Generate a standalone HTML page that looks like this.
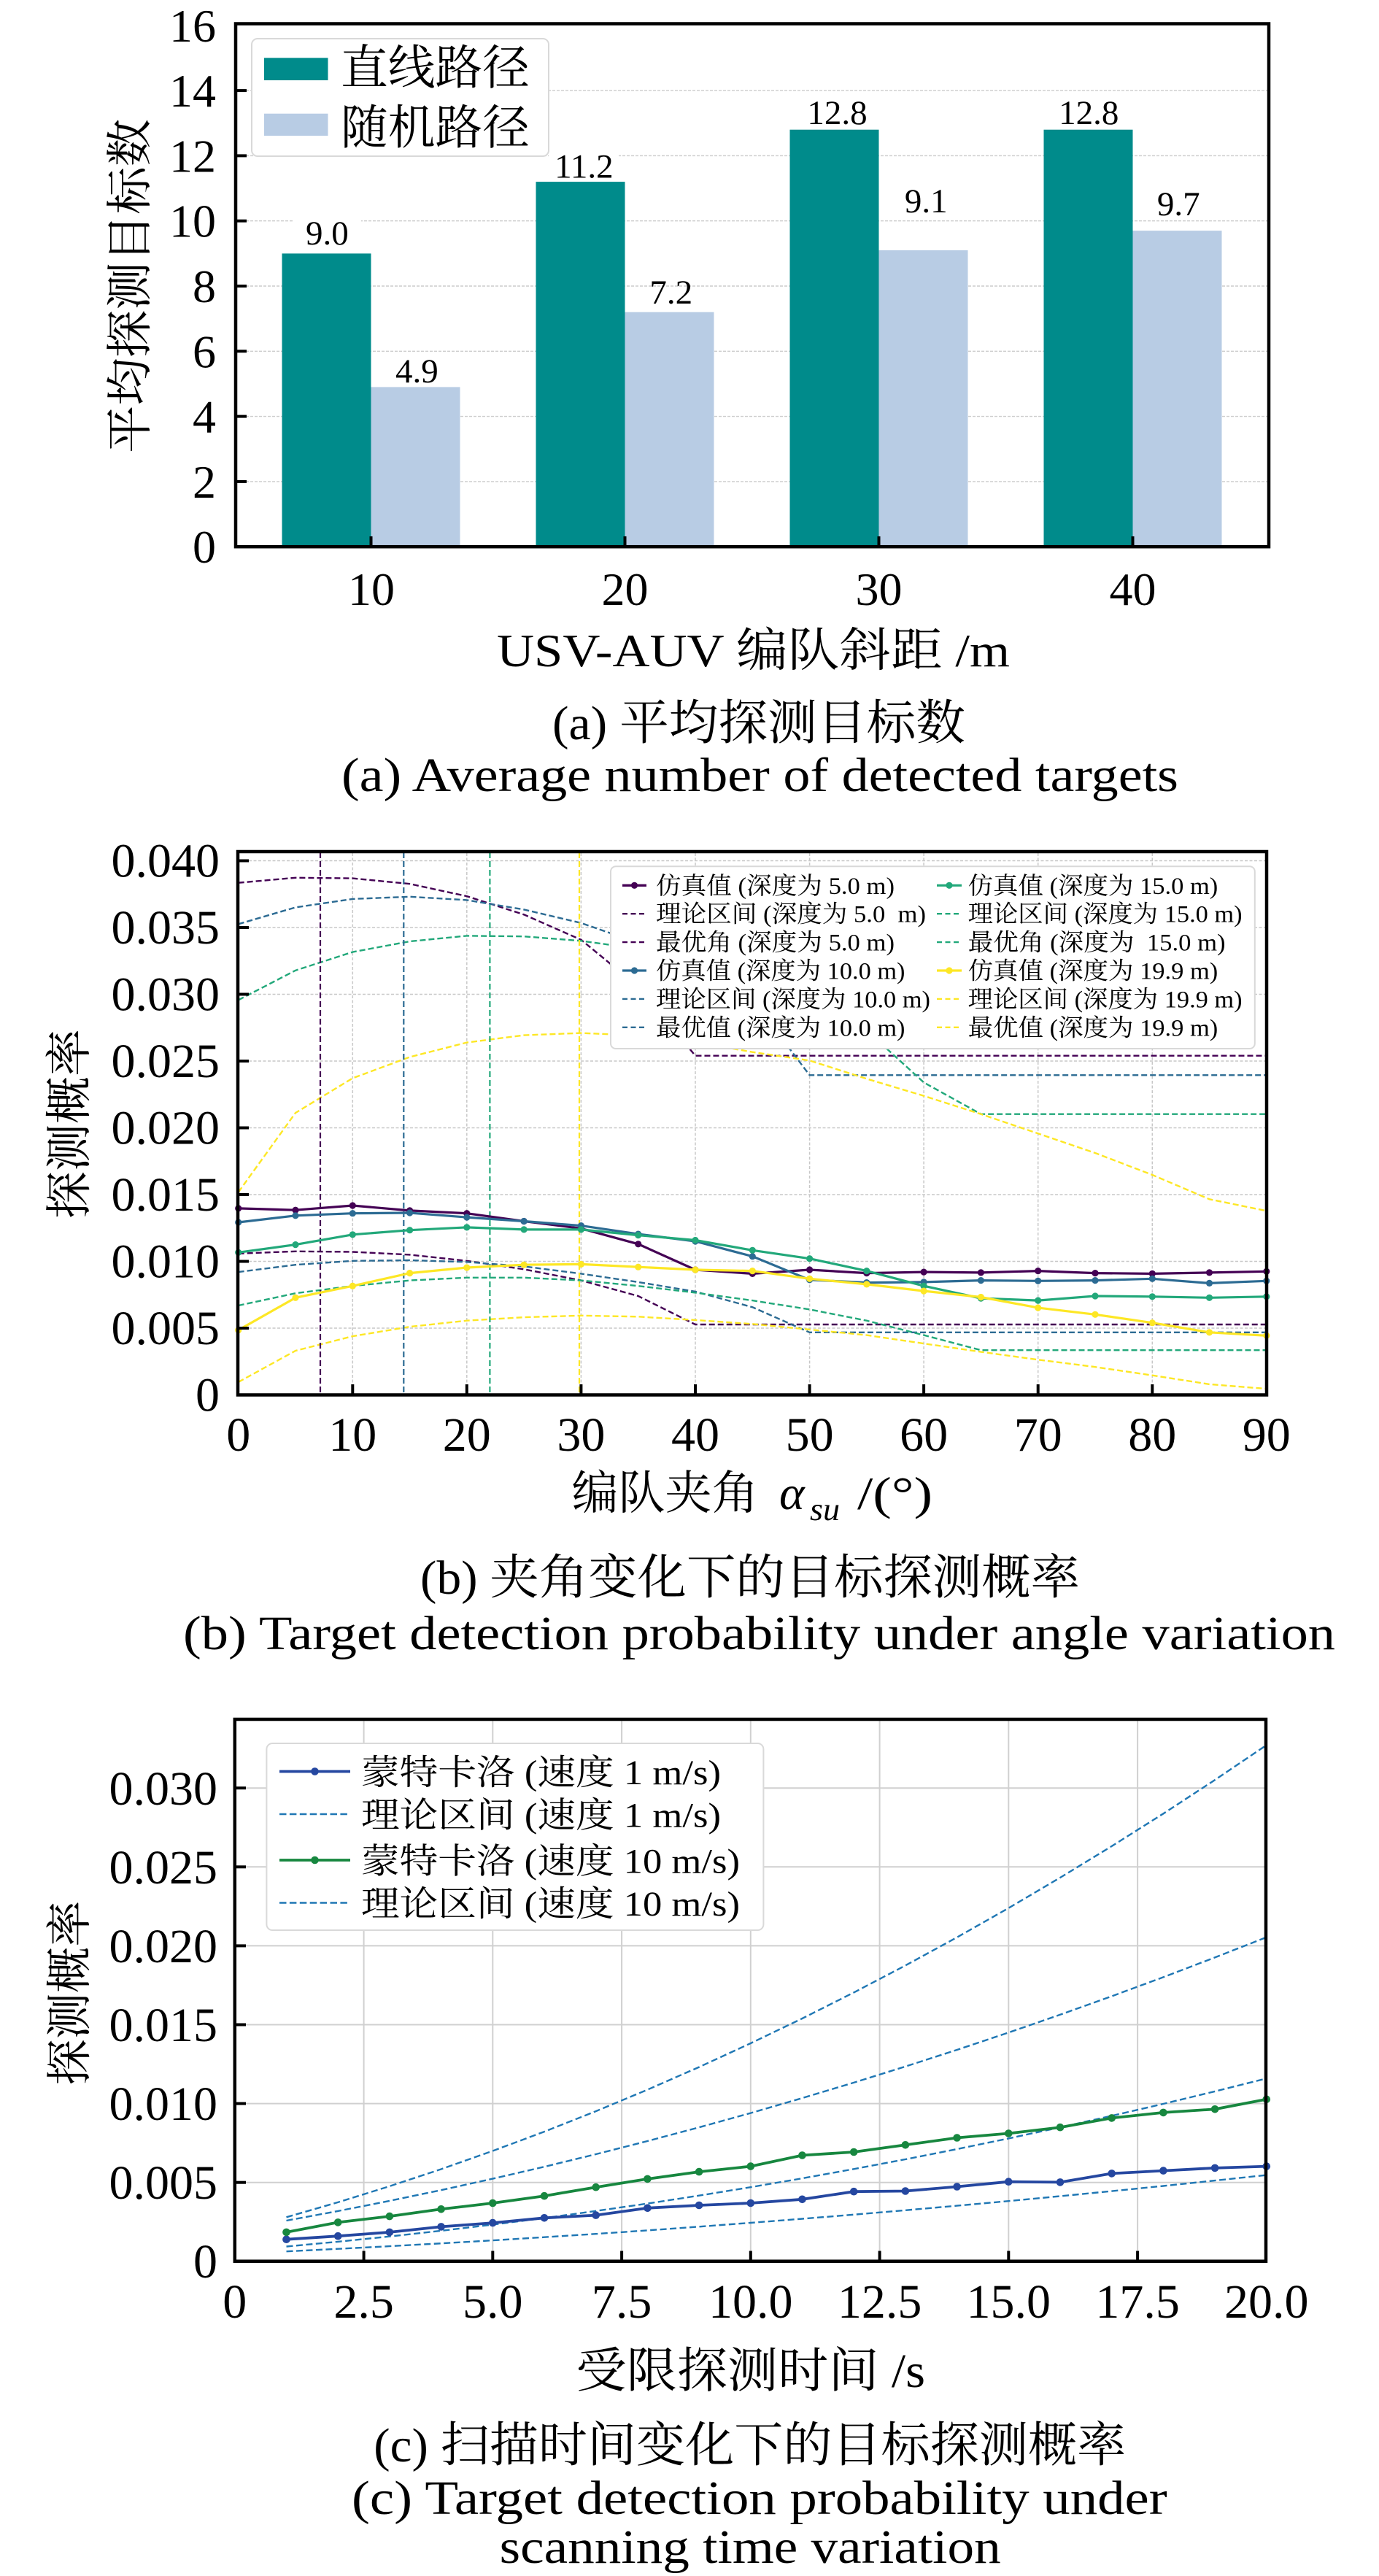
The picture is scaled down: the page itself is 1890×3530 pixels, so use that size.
<!DOCTYPE html>
<html><head><meta charset="utf-8">
<style>html,body{margin:0;padding:0;background:#fff}svg{display:block}</style>
</head><body>
<svg xmlns="http://www.w3.org/2000/svg" width="1890" height="3530" viewBox="0 0 1890 3530" font-family="'Liberation Serif','Noto Serif CJK SC',serif" fill="#000">
<defs>
<marker id="mP" markerWidth="12" markerHeight="12" refX="6" refY="6" markerUnits="userSpaceOnUse"><circle cx="6" cy="6" r="4.6" fill="#440154"/></marker>
<marker id="mB" markerWidth="12" markerHeight="12" refX="6" refY="6" markerUnits="userSpaceOnUse"><circle cx="6" cy="6" r="4.6" fill="#2c6b93"/></marker>
<marker id="mG" markerWidth="12" markerHeight="12" refX="6" refY="6" markerUnits="userSpaceOnUse"><circle cx="6" cy="6" r="4.6" fill="#22a87a"/></marker>
<marker id="mY" markerWidth="12" markerHeight="12" refX="6" refY="6" markerUnits="userSpaceOnUse"><circle cx="6" cy="6" r="4.6" fill="#fde725"/></marker>
<marker id="mcB" markerWidth="14" markerHeight="14" refX="7" refY="7" markerUnits="userSpaceOnUse"><circle cx="7" cy="7" r="5.3" fill="#2547a0"/></marker>
<marker id="mcG" markerWidth="14" markerHeight="14" refX="7" refY="7" markerUnits="userSpaceOnUse"><circle cx="7" cy="7" r="5.3" fill="#17873f"/></marker>
</defs>
<rect x="0" y="0" width="1890" height="3530" fill="#fff"/>

<!-- ================= CHART A ================= -->
<g stroke="#cccccc" stroke-width="1.4" stroke-dasharray="4,2">
<line x1="325" y1="659.9" x2="1737" y2="659.9"/>
<line x1="325" y1="570.6" x2="1737" y2="570.6"/>
<line x1="325" y1="481.3" x2="1737" y2="481.3"/>
<line x1="325" y1="392" x2="1737" y2="392"/>
<line x1="325" y1="302.7" x2="1737" y2="302.7"/>
<line x1="325" y1="213.4" x2="1737" y2="213.4"/>
<line x1="325" y1="124.1" x2="1737" y2="124.1"/>
</g>
<g fill="#008b8b">
<rect x="386.5" y="347.4" width="122" height="401.8"/>
<rect x="734.5" y="249.1" width="122" height="500.1"/>
<rect x="1082.5" y="177.7" width="122" height="571.5"/>
<rect x="1430.5" y="177.7" width="122" height="571.5"/>
</g>
<g fill="#b8cce4">
<rect x="508.5" y="530.4" width="122" height="218.8"/>
<rect x="856.5" y="427.7" width="122" height="321.5"/>
<rect x="1204.5" y="342.9" width="122" height="406.3"/>
<rect x="1552.5" y="316.1" width="122" height="433.1"/>
</g>
<g fill="#fff">
<rect x="403" y="298" width="92" height="44"/>
<rect x="752" y="205" width="96" height="44"/>
<rect x="1099" y="132" width="97" height="44"/>
<rect x="1444" y="132" width="97" height="44"/>
</g>
<g font-size="47" text-anchor="middle">
<text x="448.4" y="335">9.0</text>
<text x="571.4" y="524">4.9</text>
<text x="800.4" y="243.5">11.2</text>
<text x="919.7" y="415.8">7.2</text>
<text x="1147.5" y="170">12.8</text>
<text x="1269.3" y="291">9.1</text>
<text x="1492.3" y="170">12.8</text>
<text x="1615.2" y="295">9.7</text>
</g>
<rect x="345" y="53" width="407" height="161" rx="8" fill="#fff" stroke="#d9d9d9" stroke-width="2"/>
<rect x="362" y="79.3" width="87.5" height="30.7" fill="#008b8b"/>
<rect x="362" y="155.7" width="87.5" height="30.3" fill="#b8cce4"/>
<text x="467" y="115" font-size="65" textLength="259" lengthAdjust="spacingAndGlyphs">直线路径</text>
<text x="467" y="197" font-size="65" textLength="259" lengthAdjust="spacingAndGlyphs">随机路径</text>
<rect x="323" y="32.5" width="1416" height="716.7" fill="none" stroke="#000" stroke-width="4.5"/>
<g stroke="#000" stroke-width="4">
<line x1="323" y1="659.9" x2="338" y2="659.9"/>
<line x1="323" y1="570.6" x2="338" y2="570.6"/>
<line x1="323" y1="481.3" x2="338" y2="481.3"/>
<line x1="323" y1="392" x2="338" y2="392"/>
<line x1="323" y1="302.7" x2="338" y2="302.7"/>
<line x1="323" y1="213.4" x2="338" y2="213.4"/>
<line x1="323" y1="124.1" x2="338" y2="124.1"/>
<line x1="508.5" y1="749" x2="508.5" y2="735"/>
<line x1="856.5" y1="749" x2="856.5" y2="735"/>
<line x1="1204.5" y1="749" x2="1204.5" y2="735"/>
<line x1="1552.5" y1="749" x2="1552.5" y2="735"/>
</g>
<g font-size="64" text-anchor="end">
<text x="296" y="771.2">0</text>
<text x="296" y="681.9">2</text>
<text x="296" y="592.6">4</text>
<text x="296" y="503.3">6</text>
<text x="296" y="414">8</text>
<text x="296" y="324.7">10</text>
<text x="296" y="235.4">12</text>
<text x="296" y="146.1">14</text>
<text x="296" y="56.8">16</text>
</g>
<g font-size="64" text-anchor="middle">
<text x="509" y="829">10</text>
<text x="856.5" y="829">20</text>
<text x="1204.5" y="829">30</text>
<text x="1552.5" y="829">40</text>
</g>
<text x="681" y="913" font-size="64" textLength="703" lengthAdjust="spacingAndGlyphs">USV-AUV 编队斜距 /m</text>
<text transform="translate(200,392) rotate(-90)" font-size="64" text-anchor="middle" textLength="458" lengthAdjust="spacingAndGlyphs">平均探测目标数</text>
<text x="757" y="1013" font-size="66" textLength="566" lengthAdjust="spacingAndGlyphs">(a) 平均探测目标数</text>
<text x="468" y="1084" font-size="66" textLength="1147" lengthAdjust="spacingAndGlyphs">(a) Average number of detected targets</text>

<!-- ================= CHART B ================= -->
<g stroke="#c8c8c8" stroke-width="1.5" stroke-dasharray="4,2.5">
<line x1="328" y1="1820" x2="1734" y2="1820"/>
<line x1="328" y1="1728.5" x2="1734" y2="1728.5"/>
<line x1="328" y1="1637" x2="1734" y2="1637"/>
<line x1="328" y1="1545.5" x2="1734" y2="1545.5"/>
<line x1="328" y1="1454" x2="1734" y2="1454"/>
<line x1="328" y1="1362.5" x2="1734" y2="1362.5"/>
<line x1="328" y1="1271" x2="1734" y2="1271"/>
<line x1="328" y1="1179.5" x2="1734" y2="1179.5"/>
<line x1="483.3" y1="1169" x2="483.3" y2="1910"/>
<line x1="639.8" y1="1169" x2="639.8" y2="1910"/>
<line x1="796.4" y1="1169" x2="796.4" y2="1910"/>
<line x1="953" y1="1169" x2="953" y2="1910"/>
<line x1="1109.6" y1="1169" x2="1109.6" y2="1910"/>
<line x1="1266.1" y1="1169" x2="1266.1" y2="1910"/>
<line x1="1422.7" y1="1169" x2="1422.7" y2="1910"/>
<line x1="1579.3" y1="1169" x2="1579.3" y2="1910"/>
</g>
<g fill="none" stroke-width="2.4" stroke-dasharray="8,4">
<polyline stroke="#440154" points="326.7,1209.7 405,1202.8 483.3,1203.6 561.6,1211.2 639.8,1228.1 718.1,1253.3 796.4,1287.8 874.7,1352 953,1446.7 1735.8,1446.7"/>
<polyline stroke="#440154" points="326.7,1717.8 405,1714.8 483.3,1715.5 561.6,1719.4 639.8,1727.8 718.1,1739.3 796.4,1754.6 874.7,1776 953,1815 1735.8,1815"/>
<polyline stroke="#2c6b93" points="326.7,1266.3 405,1243.4 483.3,1231.9 561.6,1228.8 639.8,1233.4 718.1,1246.4 796.4,1264.8 874.7,1292 953,1322 1031.3,1370 1109.6,1473.3 1735.8,1473.3"/>
<polyline stroke="#2c6b93" points="326.7,1743.1 405,1733.2 483.3,1727.8 561.6,1727 639.8,1729.3 718.1,1735.4 796.4,1745.4 874.7,1756.9 953,1769.9 1031.3,1791.3 1109.6,1825.8 1735.8,1825.8"/>
<polyline stroke="#22a87a" points="326.7,1370.4 405,1329.8 483.3,1304.6 561.6,1290 639.8,1282.4 718.1,1283.2 796.4,1289.3 874.7,1300 953,1318 1031.3,1340 1109.6,1370 1187.8,1412 1266.1,1483.3 1344.4,1526.7 1735.8,1526.7"/>
<polyline stroke="#22a87a" points="326.7,1789 405,1772.2 483.3,1762.2 561.6,1754.6 639.8,1750.8 718.1,1750.8 796.4,1754.6 874.7,1762.2 953,1771.4 1031.3,1782.1 1109.6,1794.4 1187.8,1809.7 1266.1,1829.6 1344.4,1850.2 1735.8,1850.2"/>
<polyline stroke="#fde725" points="326.7,1633.7 405,1525 483.3,1477.5 561.6,1448.5 639.8,1428.6 718.1,1418.6 796.4,1415.6 874.7,1419 953,1428 1031.3,1441.7 1109.6,1453.3 1187.8,1478.3 1266.1,1501.7 1344.4,1526.7 1422.7,1553.3 1501,1580 1579.3,1610 1657.5,1643.3 1735.8,1659.3"/>
<polyline stroke="#fde725" points="326.7,1893.9 405,1851 483.3,1831.1 561.6,1818.1 639.8,1809.7 718.1,1805.1 796.4,1802.8 874.7,1804.3 953,1808.9 1031.3,1814.3 1109.6,1821.9 1187.8,1829.6 1266.1,1841.1 1344.4,1852.5 1422.7,1863.3 1501,1873.2 1579.3,1884.7 1657.5,1896.9 1735.8,1903.1"/>
</g>
<g stroke-width="2.2" stroke-dasharray="8,4">
<line x1="439" y1="1168" x2="439" y2="1911" stroke="#440154"/>
<line x1="553.3" y1="1168" x2="553.3" y2="1911" stroke="#2c6b93"/>
<line x1="671.4" y1="1168" x2="671.4" y2="1911" stroke="#22a87a"/>
<line x1="794" y1="1168" x2="794" y2="1911" stroke="#fde725"/>
</g>
<g fill="none" stroke-width="3.2">
<polyline stroke="#440154" marker-start="url(#mP)" marker-mid="url(#mP)" marker-end="url(#mP)" points="326.7,1655.9 405,1658.2 483.3,1652 561.6,1658.9 639.8,1662.7 718.1,1673.5 796.4,1683.4 874.7,1704.8 953,1740 1031.3,1745.4 1109.6,1740 1187.8,1744.6 1266.1,1743.1 1344.4,1743.9 1422.7,1741.6 1501,1744.6 1579.3,1745.4 1657.5,1743.9 1735.8,1742.3"/>
<polyline stroke="#2c6b93" marker-start="url(#mB)" marker-mid="url(#mB)" marker-end="url(#mB)" points="326.7,1675 405,1665.8 483.3,1662.7 561.6,1662 639.8,1668.1 718.1,1673.5 796.4,1679.6 874.7,1691.1 953,1701 1031.3,1721.7 1109.6,1753.8 1187.8,1757.6 1266.1,1756.9 1344.4,1754.6 1422.7,1755.3 1501,1754.6 1579.3,1752.3 1657.5,1758.4 1735.8,1755.3"/>
<polyline stroke="#22a87a" marker-start="url(#mG)" marker-mid="url(#mG)" marker-end="url(#mG)" points="326.7,1716.3 405,1705.6 483.3,1691.8 561.6,1685.7 639.8,1681.9 718.1,1684.9 796.4,1684.9 874.7,1692.6 953,1699.5 1031.3,1713.3 1109.6,1724.7 1187.8,1741.6 1266.1,1762.2 1344.4,1779.1 1422.7,1782.1 1501,1776 1579.3,1776.8 1657.5,1778.3 1735.8,1776.8"/>
<polyline stroke="#fde725" marker-start="url(#mY)" marker-mid="url(#mY)" marker-end="url(#mY)" points="326.7,1822.7 405,1778.3 483.3,1762.2 561.6,1744.6 639.8,1737 718.1,1733.2 796.4,1732.4 874.7,1736.2 953,1740 1031.3,1741.6 1109.6,1752.3 1187.8,1759.9 1266.1,1769.1 1344.4,1777.5 1422.7,1792.1 1501,1801.3 1579.3,1812.7 1657.5,1825.8 1735.8,1830.3"/>
</g>
<!-- legend b -->
<rect x="837" y="1187.3" width="882.8" height="249.7" rx="7" fill="#fff" stroke="#d9d9d9" stroke-width="2"/>
<g fill="none">
<line x1="853" y1="1213.3" x2="886" y2="1213.3" stroke="#440154" stroke-width="3.2" marker-mid="url(#mP)"/>
<polyline points="853,1213.3 869.5,1213.3 886,1213.3" stroke="#440154" stroke-width="3.2" marker-mid="url(#mP)"/>
<line x1="853" y1="1252.2" x2="886" y2="1252.2" stroke="#440154" stroke-width="2.4" stroke-dasharray="7,4.5"/>
<line x1="853" y1="1291.1" x2="886" y2="1291.1" stroke="#440154" stroke-width="2.4" stroke-dasharray="7,4.5"/>
<polyline points="853,1330 869.5,1330 886,1330" stroke="#2c6b93" stroke-width="3.2" marker-mid="url(#mB)"/>
<line x1="853" y1="1368.9" x2="886" y2="1368.9" stroke="#2c6b93" stroke-width="2.4" stroke-dasharray="7,4.5"/>
<line x1="853" y1="1407.8" x2="886" y2="1407.8" stroke="#2c6b93" stroke-width="2.4" stroke-dasharray="7,4.5"/>
<polyline points="1284,1213.3 1301,1213.3 1318,1213.3" stroke="#22a87a" stroke-width="3.2" marker-mid="url(#mG)"/>
<line x1="1284" y1="1252.2" x2="1318" y2="1252.2" stroke="#22a87a" stroke-width="2.4" stroke-dasharray="7,4.5"/>
<line x1="1284" y1="1291.1" x2="1318" y2="1291.1" stroke="#22a87a" stroke-width="2.4" stroke-dasharray="7,4.5"/>
<polyline points="1284,1330 1301,1330 1318,1330" stroke="#fde725" stroke-width="3.2" marker-mid="url(#mY)"/>
<line x1="1284" y1="1368.9" x2="1318" y2="1368.9" stroke="#fde725" stroke-width="2.4" stroke-dasharray="7,4.5"/>
<line x1="1284" y1="1407.8" x2="1318" y2="1407.8" stroke="#fde725" stroke-width="2.4" stroke-dasharray="7,4.5"/>
</g>
<g font-size="33" lengthAdjust="spacingAndGlyphs">
<text x="899" y="1224.8" textLength="327" lengthAdjust="spacingAndGlyphs">仿真值 (深度为 5.0 m)</text>
<text x="899" y="1263.7" textLength="370" lengthAdjust="spacingAndGlyphs">理论区间 (深度为 5.0 &#160;m)</text>
<text x="899" y="1302.6" textLength="327" lengthAdjust="spacingAndGlyphs">最优角 (深度为 5.0 m)</text>
<text x="899" y="1341.5" textLength="341.5" lengthAdjust="spacingAndGlyphs">仿真值 (深度为 10.0 m)</text>
<text x="899" y="1380.4" textLength="376" lengthAdjust="spacingAndGlyphs">理论区间 (深度为 10.0 m)</text>
<text x="899" y="1419.3" textLength="341.5" lengthAdjust="spacingAndGlyphs">最优值 (深度为 10.0 m)</text>
<text x="1326.6" y="1224.8" textLength="342.7" lengthAdjust="spacingAndGlyphs">仿真值 (深度为 15.0 m)</text>
<text x="1326.6" y="1263.7" textLength="376" lengthAdjust="spacingAndGlyphs">理论区间 (深度为 15.0 m)</text>
<text x="1326.6" y="1302.6" textLength="353" lengthAdjust="spacingAndGlyphs">最优角 (深度为 &#160;15.0 m)</text>
<text x="1326.6" y="1341.5" textLength="342.7" lengthAdjust="spacingAndGlyphs">仿真值 (深度为 19.9 m)</text>
<text x="1326.6" y="1380.4" textLength="376" lengthAdjust="spacingAndGlyphs">理论区间 (深度为 19.9 m)</text>
<text x="1326.6" y="1419.3" textLength="342.7" lengthAdjust="spacingAndGlyphs">最优值 (深度为 19.9 m)</text>
</g>
<rect x="326" y="1167" width="1410" height="744.5" fill="none" stroke="#000" stroke-width="4.5"/>
<g stroke="#000" stroke-width="4">
<line x1="326" y1="1820" x2="341" y2="1820"/>
<line x1="326" y1="1728.5" x2="341" y2="1728.5"/>
<line x1="326" y1="1637" x2="341" y2="1637"/>
<line x1="326" y1="1545.5" x2="341" y2="1545.5"/>
<line x1="326" y1="1454" x2="341" y2="1454"/>
<line x1="326" y1="1362.5" x2="341" y2="1362.5"/>
<line x1="326" y1="1271" x2="341" y2="1271"/>
<line x1="326" y1="1179.5" x2="341" y2="1179.5"/>
<line x1="483.3" y1="1911" x2="483.3" y2="1897"/>
<line x1="639.8" y1="1911" x2="639.8" y2="1897"/>
<line x1="796.4" y1="1911" x2="796.4" y2="1897"/>
<line x1="953" y1="1911" x2="953" y2="1897"/>
<line x1="1109.6" y1="1911" x2="1109.6" y2="1897"/>
<line x1="1266.1" y1="1911" x2="1266.1" y2="1897"/>
<line x1="1422.7" y1="1911" x2="1422.7" y2="1897"/>
<line x1="1579.3" y1="1911" x2="1579.3" y2="1897"/>
</g>
<g font-size="66" text-anchor="end">
<text x="301" y="1933.5">0</text>
<text x="301" y="1842">0.005</text>
<text x="301" y="1750.5">0.010</text>
<text x="301" y="1659">0.015</text>
<text x="301" y="1567.5">0.020</text>
<text x="301" y="1476">0.025</text>
<text x="301" y="1384.5">0.030</text>
<text x="301" y="1293">0.035</text>
<text x="301" y="1201.5">0.040</text>
</g>
<g font-size="66" text-anchor="middle">
<text x="326.7" y="1988">0</text>
<text x="483.3" y="1988">10</text>
<text x="639.8" y="1988">20</text>
<text x="796.4" y="1988">30</text>
<text x="953" y="1988">40</text>
<text x="1109.6" y="1988">50</text>
<text x="1266.1" y="1988">60</text>
<text x="1422.7" y="1988">70</text>
<text x="1579.3" y="1988">80</text>
<text x="1735.8" y="1988">90</text>
</g>
<text x="783.5" y="2068" font-size="64" textLength="256" lengthAdjust="spacingAndGlyphs">编队夹角</text>
<text x="1068" y="2068" font-size="66" font-style="italic">α</text>
<text x="1110" y="2083" font-size="44" font-style="italic" textLength="41" lengthAdjust="spacingAndGlyphs">su</text>
<text x="1175" y="2068" font-size="64" textLength="103" lengthAdjust="spacingAndGlyphs">/(°)</text>
<text transform="translate(117,1540) rotate(-90)" font-size="64" text-anchor="middle" textLength="260" lengthAdjust="spacingAndGlyphs">探测概率</text>
<text x="576" y="2184" font-size="66" textLength="904" lengthAdjust="spacingAndGlyphs">(b) 夹角变化下的目标探测概率</text>
<text x="251" y="2260" font-size="66" textLength="1579" lengthAdjust="spacingAndGlyphs">(b) Target detection probability under angle variation</text>

<!-- ================= CHART C ================= -->
<g stroke="#d0d0d0" stroke-width="2">
<line x1="498.6" y1="2358" x2="498.6" y2="3097"/>
<line x1="675.3" y1="2358" x2="675.3" y2="3097"/>
<line x1="852.1" y1="2358" x2="852.1" y2="3097"/>
<line x1="1028.8" y1="2358" x2="1028.8" y2="3097"/>
<line x1="1205.6" y1="2358" x2="1205.6" y2="3097"/>
<line x1="1382.3" y1="2358" x2="1382.3" y2="3097"/>
<line x1="1559.1" y1="2358" x2="1559.1" y2="3097"/>
<line x1="323" y1="2990.7" x2="1734" y2="2990.7"/>
<line x1="323" y1="2882.6" x2="1734" y2="2882.6"/>
<line x1="323" y1="2774.5" x2="1734" y2="2774.5"/>
<line x1="323" y1="2666.4" x2="1734" y2="2666.4"/>
<line x1="323" y1="2558.3" x2="1734" y2="2558.3"/>
<line x1="323" y1="2450.2" x2="1734" y2="2450.2"/>
</g>
<g fill="none" stroke="#1f77b4" stroke-width="2.4" stroke-dasharray="9,4.5">
<polyline points="392.5,3038.3 463.2,3017.9 533.9,2995.9 604.6,2972.5 675.3,2947.5 746,2921.1 816.7,2893.1 887.4,2863.6 958.1,2832.6 1028.8,2800 1099.5,2766 1170.2,2730.4 1240.9,2693.4 1311.6,2654.8 1382.3,2614.7 1453,2573 1523.7,2529.9 1594.4,2485.3 1665.1,2439.1 1735.8,2391.4"/>
<polyline points="392.5,3043 463.2,3029.9 533.9,3015.9 604.6,3001.2 675.3,2985.6 746,2969.2 816.7,2952 887.4,2934 958.1,2915.2 1028.8,2895.6 1099.5,2875.1 1170.2,2853.9 1240.9,2831.8 1311.6,2809 1382.3,2785.3 1453,2760.8 1523.7,2735.5 1594.4,2709.4 1665.1,2682.4 1735.8,2654.7"/>
<polyline points="392.5,3078.5 463.2,3071.9 533.9,3064.7 604.6,3056.9 675.3,3048.5 746,3039.5 816.7,3029.8 887.4,3019.6 958.1,3008.7 1028.8,2997.2 1099.5,2985.1 1170.2,2972.3 1240.9,2959 1311.6,2945 1382.3,2930.4 1453,2915.2 1523.7,2899.4 1594.4,2883 1665.1,2865.9 1735.8,2848.2"/>
<polyline points="392.5,3085.2 463.2,3081.7 533.9,3078.1 604.6,3074.2 675.3,3070.1 746,3065.7 816.7,3061.2 887.4,3056.4 958.1,3051.3 1028.8,3046 1099.5,3040.5 1170.2,3034.8 1240.9,3028.8 1311.6,3022.6 1382.3,3016.2 1453,3009.5 1523.7,3002.6 1594.4,2995.5 1665.1,2988.1 1735.8,2980.6"/>
</g>
<g fill="none" stroke-width="3.8">
<polyline stroke="#2547a0" marker-start="url(#mcB)" marker-mid="url(#mcB)" marker-end="url(#mcB)" points="392.5,3068.7 463.2,3064.2 533.9,3058.9 604.6,3051.4 675.3,3046.1 746,3039.3 816.7,3035.6 887.4,3025.8 958.1,3022 1028.8,3019 1099.5,3013.8 1170.2,3003.2 1240.9,3002.5 1311.6,2996.5 1382.3,2989.7 1453,2990.4 1523.7,2978.4 1594.4,2974.6 1665.1,2970.9 1735.8,2968.6"/>
<polyline stroke="#17873f" marker-start="url(#mcG)" marker-mid="url(#mcG)" marker-end="url(#mcG)" points="392.5,3058.9 463.2,3045.4 533.9,3037.1 604.6,3027.3 675.3,3019 746,3009.2 816.7,2997.2 887.4,2985.9 958.1,2976.1 1028.8,2968.6 1099.5,2953.5 1170.2,2949 1240.9,2939.3 1311.6,2929.5 1382.3,2923.5 1453,2915.2 1523.7,2902.4 1594.4,2894.9 1665.1,2890.3 1735.8,2876.8"/>
</g>
<!-- legend c -->
<rect x="365.4" y="2389" width="681" height="256" rx="8" fill="#fff" stroke="#d9d9d9" stroke-width="2"/>
<g fill="none">
<polyline points="383,2427.5 431.5,2427.5 480,2427.5" stroke="#2547a0" stroke-width="3.8" marker-mid="url(#mcB)"/>
<line x1="383" y1="2486" x2="480" y2="2486" stroke="#1f77b4" stroke-width="2.4" stroke-dasharray="9.5,4.4"/>
<polyline points="383,2549 431.5,2549 480,2549" stroke="#17873f" stroke-width="3.8" marker-mid="url(#mcG)"/>
<line x1="383" y1="2607.5" x2="480" y2="2607.5" stroke="#1f77b4" stroke-width="2.4" stroke-dasharray="9.5,4.4"/>
</g>
<g font-size="48">
<text x="495" y="2445" textLength="493" lengthAdjust="spacingAndGlyphs">蒙特卡洛 (速度 1 m/s)</text>
<text x="495" y="2503.5" textLength="493" lengthAdjust="spacingAndGlyphs">理论区间 (速度 1 m/s)</text>
<text x="495" y="2566.5" textLength="519" lengthAdjust="spacingAndGlyphs">蒙特卡洛 (速度 10 m/s)</text>
<text x="495" y="2625" textLength="519" lengthAdjust="spacingAndGlyphs">理论区间 (速度 10 m/s)</text>
</g>
<rect x="321.8" y="2356" width="1413.2" height="742.7" fill="none" stroke="#000" stroke-width="4.5"/>
<g stroke="#000" stroke-width="4">
<line x1="322" y1="2990.7" x2="337" y2="2990.7"/>
<line x1="322" y1="2882.6" x2="337" y2="2882.6"/>
<line x1="322" y1="2774.5" x2="337" y2="2774.5"/>
<line x1="322" y1="2666.4" x2="337" y2="2666.4"/>
<line x1="322" y1="2558.3" x2="337" y2="2558.3"/>
<line x1="322" y1="2450.2" x2="337" y2="2450.2"/>
<line x1="498.6" y1="3098.5" x2="498.6" y2="3084.5"/>
<line x1="675.3" y1="3098.5" x2="675.3" y2="3084.5"/>
<line x1="852.1" y1="3098.5" x2="852.1" y2="3084.5"/>
<line x1="1028.8" y1="3098.5" x2="1028.8" y2="3084.5"/>
<line x1="1205.6" y1="3098.5" x2="1205.6" y2="3084.5"/>
<line x1="1382.3" y1="3098.5" x2="1382.3" y2="3084.5"/>
<line x1="1559.1" y1="3098.5" x2="1559.1" y2="3084.5"/>
</g>
<g font-size="66" text-anchor="end">
<text x="298" y="3121">0</text>
<text x="298" y="3013">0.005</text>
<text x="298" y="2905">0.010</text>
<text x="298" y="2797">0.015</text>
<text x="298" y="2689">0.020</text>
<text x="298" y="2581">0.025</text>
<text x="298" y="2473">0.030</text>
</g>
<g font-size="66" text-anchor="middle">
<text x="321.8" y="3176">0</text>
<text x="498.6" y="3176">2.5</text>
<text x="675.3" y="3176">5.0</text>
<text x="852.1" y="3176">7.5</text>
<text x="1028.8" y="3176">10.0</text>
<text x="1205.6" y="3176">12.5</text>
<text x="1382.3" y="3176">15.0</text>
<text x="1559.1" y="3176">17.5</text>
<text x="1735.8" y="3176">20.0</text>
</g>
<text x="789.5" y="3271" font-size="66" textLength="478.5" lengthAdjust="spacingAndGlyphs">受限探测时间 /s</text>
<text transform="translate(117,2731) rotate(-90)" font-size="63" text-anchor="middle" textLength="253" lengthAdjust="spacingAndGlyphs">探测概率</text>
<text x="512.3" y="3373" font-size="66" textLength="1031" lengthAdjust="spacingAndGlyphs">(c) 扫描时间变化下的目标探测概率</text>
<text x="482" y="3445" font-size="66" textLength="1117.6" lengthAdjust="spacingAndGlyphs">(c) Target detection probability under</text>
<text x="684.7" y="3512" font-size="66" textLength="687" lengthAdjust="spacingAndGlyphs">scanning time variation</text>
</svg>
</body></html>
